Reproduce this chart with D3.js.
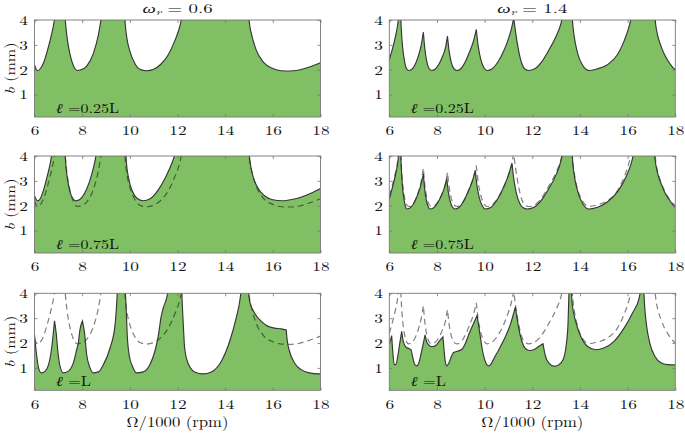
<!DOCTYPE html>
<html><head><meta charset="utf-8">
<script src="https://cdn.jsdelivr.net/npm/d3@7"></script>
<style>body{margin:0;background:#fff} svg{display:block} text{font-family:"Latin Modern Roman","Liberation Serif",serif}</style>
</head><body><svg id="c" width="685" height="434"></svg>
<script>
const xTicks = [6, 8, 10, 12, 14, 16, 18];
const yTicks = [1, 2, 3, 4];
const omegaLabels = ["0.6", "1.4"];
const lengthLabels = ["0.25L", "0.75L", "L"];

// each curve = list of lobe branches [[speed/1000, b(mm)], ...]
const lobes_w06_l025 = [
 [[6,2.19],[6.07,2.02],[6.14,1.96],[6.25,2.05],[6.38,2.28],[6.52,2.7],[6.66,3.2],[6.78,3.7],[6.9,4.4]],
 [[7.26,4.4],[7.3,3.9],[7.36,3.35],[7.45,2.8],[7.58,2.3],[7.7,2.04],[7.8,1.97],[7.95,2.0],[8.19,2.15],[8.47,2.66],[8.68,3.4],[8.82,4.2]],
 [[9.77,4.4],[9.81,3.8],[9.88,3.25],[10.0,2.75],[10.2,2.27],[10.42,2.02],[10.7,1.96],[11.0,2.02],[11.3,2.22],[11.6,2.58],[11.9,3.2],[12.1,3.75],[12.22,4.3]],
 [[14.97,4.4],[15.02,3.85],[15.1,3.45],[15.3,2.8],[15.59,2.32],[16.0,2.05],[16.35,1.96],[16.7,1.95],[17.1,1.99],[17.5,2.1],[18,2.28]]
];
const lobes_w14_l025 = [
 [[6,2.4],[6.12,2.8],[6.25,3.3],[6.35,3.8],[6.42,4.4]],
 [[6.47,4.4],[6.5,3.7],[6.56,2.9],[6.63,2.4],[6.71,2.07],[6.8,1.97],[6.92,2.0],[7.05,2.15],[7.2,2.5],[7.33,2.95],[7.43,3.51]],
 [[7.43,3.51],[7.49,2.85],[7.57,2.35],[7.67,2.05],[7.78,1.97],[7.92,2.02],[8.08,2.22],[8.24,2.55],[8.36,2.9],[8.44,3.35]],
 [[8.44,3.35],[8.51,2.75],[8.6,2.3],[8.72,2.03],[8.84,1.97],[9.0,2.04],[9.18,2.3],[9.36,2.7],[9.53,3.15],[9.65,3.62]],
 [[9.65,3.62],[9.73,2.95],[9.83,2.45],[9.96,2.1],[10.1,1.97],[10.3,2.03],[10.55,2.3],[10.8,2.75],[11.0,3.25],[11.15,3.75],[11.22,4.1]],
 [[11.22,4.1],[11.3,3.5],[11.42,2.8],[11.56,2.25],[11.7,2.02],[11.85,1.97],[12.1,2.04],[12.4,2.33],[12.7,2.8],[13.0,3.35],[13.2,3.85],[13.32,4.4]],
 [[13.65,4.4],[13.71,3.7],[13.8,3.1],[13.92,2.6],[14.1,2.2],[14.38,1.97],[14.7,2.03],[15.15,2.2],[15.57,2.6],[15.85,3.15],[16.05,3.7],[16.2,4.3]],
 [[17.12,4.4],[17.18,3.8],[17.28,3.3],[17.4,2.95],[17.55,2.6],[17.7,2.35],[17.85,2.15],[18,2.0]]
];
const lobes_w06_l075 = [
 [[6,2.4],[6.07,2.25],[6.14,2.2],[6.25,2.3],[6.4,2.7],[6.55,3.25],[6.67,3.75],[6.76,4.3]],
 [[7.27,4.4],[7.31,3.7],[7.38,3.1],[7.48,2.6],[7.6,2.3],[7.74,2.2],[7.9,2.25],[8.1,2.5],[8.3,2.95],[8.48,3.55],[8.62,4.2]],
 [[9.82,4.4],[9.86,3.7],[9.95,3.1],[10.1,2.6],[10.3,2.3],[10.56,2.2],[10.85,2.28],[11.2,2.65],[11.5,3.15],[11.78,3.75],[11.98,4.3]],
 [[14.98,4.4],[15.04,3.8],[15.15,3.25],[15.35,2.75],[15.65,2.4],[16.0,2.24],[16.4,2.2],[16.8,2.25],[17.2,2.35],[17.6,2.5],[18,2.69]]
];
const lobes_w14_l075 = [
 [[6,2.27],[6.12,2.7],[6.25,3.2],[6.35,3.7],[6.43,4.4]],
 [[6.47,4.4],[6.5,3.6],[6.55,2.8],[6.61,2.3],[6.67,2.0],[6.73,1.87],[6.85,1.9],[7.0,2.05],[7.15,2.35],[7.3,2.75],[7.43,3.27]],
 [[7.43,3.27],[7.48,2.7],[7.55,2.25],[7.63,1.97],[7.71,1.87],[7.85,1.91],[8.02,2.1],[8.18,2.4],[8.31,2.72],[8.41,3.1]],
 [[8.41,3.1],[8.47,2.6],[8.55,2.2],[8.65,1.95],[8.76,1.87],[8.92,1.93],[9.1,2.15],[9.3,2.55],[9.48,2.98],[9.61,3.4]],
 [[9.61,3.4],[9.68,2.8],[9.77,2.35],[9.9,2.0],[10.03,1.87],[10.25,1.93],[10.5,2.2],[10.75,2.65],[10.95,3.1],[11.15,3.7]],
 [[11.15,3.7],[11.22,3.1],[11.32,2.55],[11.47,2.1],[11.62,1.92],[11.78,1.87],[12.05,1.93],[12.4,2.25],[12.7,2.7],[13.0,3.25],[13.2,3.8],[13.32,4.4]],
 [[13.65,4.4],[13.71,3.6],[13.8,3.0],[13.93,2.5],[14.12,2.08],[14.38,1.87],[14.7,1.93],[15.15,2.15],[15.6,2.6],[15.95,3.2],[16.15,3.7],[16.3,4.3]],
 [[17.1,4.4],[17.16,3.8],[17.26,3.3],[17.4,2.9],[17.55,2.55],[17.7,2.3],[17.85,2.1],[18,1.94]]
];
const lobes_w06_l100 = [
 [[6,2.33],[6.07,1.67],[6.17,1.0],[6.28,0.8],[6.45,0.87],[6.59,1.13],[6.73,1.87],[6.8,2.5],[6.84,2.89]],
 [[6.84,2.89],[6.91,2.4],[6.98,1.67],[7.07,1.07],[7.21,0.8],[7.42,0.87],[7.63,1.2],[7.77,1.73],[7.84,2.0]],
 [[7.84,2.0],[7.91,2.55],[8.01,2.89]],
 [[8.01,2.89],[8.1,2.4],[8.19,1.53],[8.33,1.0],[8.47,0.8],[8.68,0.84],[8.89,1.13],[9.17,1.8],[9.38,2.73],[9.45,3.6],[9.5,4.5]],
 [[9.78,4.5],[9.84,3.53],[9.89,2.33],[9.97,1.53],[10.14,1.0],[10.28,0.8],[10.56,0.84],[10.84,1.13],[11.05,1.67],[11.19,2.27],[11.3,3.0]],
 [[11.3,3.0],[11.4,3.4],[11.54,3.8],[11.65,4.3]],
 [[12.17,4.4],[12.19,3.8],[12.23,3.0],[12.3,1.8],[12.44,1.2],[12.72,0.84],[13.07,0.76],[13.42,0.84],[13.84,1.27],[14.19,2.07],[14.46,3.0],[14.63,3.8],[14.7,4.4]],
 [[14.95,4.4],[15.03,3.67],[15.24,3.2],[15.52,2.87],[15.8,2.67],[16.07,2.6],[16.35,2.57],[16.56,2.53]],
 [[16.56,2.53],[16.6,2.13],[16.7,1.67],[16.91,1.2],[17.19,0.93],[17.53,0.8],[17.92,0.76],[18,0.76]]
];
const lobes_w14_l100 = [
 [[6,2.0],[6.06,2.15],[6.1,2.3]],
 [[6.1,2.3],[6.15,1.6],[6.21,1.13],[6.28,1.15],[6.36,1.5],[6.44,2.0],[6.52,2.47]],
 [[6.52,2.47],[6.58,2.1],[6.65,1.9],[6.72,1.82],[6.82,1.78],[6.92,1.72]],
 [[6.92,1.72],[6.98,1.45],[7.06,1.15],[7.15,1.08],[7.24,1.2],[7.34,1.6],[7.43,2.0],[7.5,2.33]],
 [[7.5,2.33],[7.57,2.05],[7.66,1.92],[7.8,1.85],[7.95,1.9],[8.1,2.08],[8.25,2.25]],
 [[8.25,2.25],[8.3,1.7],[8.35,1.25],[8.41,1.08],[8.5,1.2],[8.6,1.45],[8.69,1.62]],
 [[8.69,1.62],[8.85,1.67],[9.05,1.75],[9.2,2.0],[9.33,2.33],[9.54,2.8],[9.68,3.1]],
 [[9.68,3.1],[9.75,2.7],[9.82,2.25],[9.9,1.75],[9.98,1.4],[10.08,1.15],[10.17,1.08],[10.28,1.17],[10.4,1.4],[10.55,1.65]],
 [[10.55,1.65],[10.66,1.85],[10.87,2.25],[11.08,2.75],[11.29,3.45]],
 [[11.29,3.45],[11.36,3.0],[11.43,2.6],[11.57,2.05],[11.71,1.78],[11.9,1.7],[12.1,1.75],[12.3,1.88],[12.45,1.97]],
 [[12.45,1.97],[12.5,1.7],[12.56,1.45],[12.69,1.2],[12.9,1.07],[13.1,1.12],[13.3,1.35],[13.42,1.9],[13.5,2.8],[13.55,4.4]],
 [[13.62,4.4],[13.68,3.53],[13.82,2.87],[14.03,2.27],[14.31,1.87],[14.66,1.73],[15.0,1.8],[15.43,2.07],[15.85,2.6],[16.2,3.2],[16.48,3.8],[16.6,4.4]],
 [[16.66,4.4],[16.72,3.4],[16.79,2.73],[16.93,2.0],[17.14,1.47],[17.42,1.2],[17.7,1.13],[18,1.12]]
];

const panels = [
 {row:0, col:0, solid:lobes_w06_l025, dashed:null},
 {row:0, col:1, solid:lobes_w14_l025, dashed:null},
 {row:1, col:0, solid:lobes_w06_l075, dashed:lobes_w06_l025},
 {row:1, col:1, solid:lobes_w14_l075, dashed:lobes_w14_l025},
 {row:2, col:0, solid:lobes_w06_l100, dashed:lobes_w06_l025},
 {row:2, col:1, solid:lobes_w14_l100, dashed:lobes_w14_l025}
];

const colLeft = [34.5, 389.3];
const rowTop = [20, 156, 293.3];
const W = 286, H = 97;
const FONT = '"Latin Modern Roman","Liberation Serif",serif';
const TICK_FS = "13.5px", SX = 1.28;   // reference glyphs are horizontally stretched
const svg = d3.select("#c");

const x = d3.scaleLinear().domain([6, 18]).range([0, W]);
const y = d3.scaleLinear().domain([0.1, 4]).range([H, 0]);
const line = d3.line().x(d => x(d[0])).y(d => y(d[1])).curve(d3.curveMonotoneX);

function curvePath(segs) {
  return segs.map((s, i) => { const p = line(s); return i ? "L" + p.slice(1) : p; }).join("");
}
function areaPath(segs) {
  const first = segs[0][0], lastSeg = segs[segs.length - 1], last = lastSeg[lastSeg.length - 1];
  return curvePath(segs) + `L${x(last[0])},${H + 2}L${x(first[0])},${H + 2}Z`;
}
function label(sel, fs, len) {
  return sel.style("font-family", FONT).style("font-size", fs).attr("fill", "#111")
    .attr("textLength", len).attr("lengthAdjust", "spacingAndGlyphs");
}

panels.forEach((p, i) => {
  const g = svg.append("g").attr("transform", `translate(${colLeft[p.col]},${rowTop[p.row]})`);
  const cid = "clip" + i;
  g.append("clipPath").attr("id", cid).append("rect").attr("width", W).attr("height", H);
  const plot = g.append("g").attr("clip-path", `url(#${cid})`);
  plot.append("path").attr("d", areaPath(p.solid)).attr("fill", "#80bf64").attr("stroke", "none");
  if (p.dashed) {
    plot.append("path").attr("d", curvePath(p.dashed)).attr("fill", "none")
      .attr("stroke", "#000").attr("stroke-opacity", 0.5).attr("stroke-width", 1.2)
      .attr("stroke-dasharray", "6,4");
  }
  plot.append("path").attr("d", curvePath(p.solid)).attr("fill", "none")
    .attr("stroke", "#363636").attr("stroke-width", 1.15);

  const axCol = "#777";
  const ab = g.append("g").attr("transform", `translate(0,${H})`)
    .call(d3.axisBottom(x).tickValues(xTicks).tickSize(-3).tickFormat(d3.format("d")));
  const at = g.append("g").call(d3.axisTop(x).tickValues(xTicks).tickSize(-3).tickFormat(""));
  const al = g.append("g").call(d3.axisLeft(y).tickValues(yTicks).tickSize(-3).tickFormat(d3.format("d")));
  const ar = g.append("g").attr("transform", `translate(${W},0)`)
    .call(d3.axisRight(y).tickValues(yTicks).tickSize(-3).tickFormat(""));
  [ab, at, al, ar].forEach(a => {
    a.select(".domain").remove();
    a.attr("font-family", null).attr("font-size", null);
    a.selectAll(".tick line").attr("stroke", axCol).attr("stroke-width", 0.8);
    a.selectAll(".tick text").attr("fill", "#111").style("font-family", FONT).style("font-size", TICK_FS);
  });
  ab.selectAll(".tick text").attr("y", 18.3).attr("dy", null).attr("transform", `scale(${SX},1)`);
  al.selectAll(".tick text").attr("x", -6.5 / SX).attr("transform", `scale(${SX},1)`);
  g.append("rect").attr("width", W).attr("height", H).attr("fill", "none")
    .attr("stroke", axCol).attr("stroke-width", 0.9);

  const ann = label(g.append("text").attr("x", 21.5).attr("y", H - 4), "13.5px", p.row === 2 ? 35 : 63);
  ann.append("tspan").style("font-style", "italic").text("ℓ");
  ann.append("tspan").text(" =" + lengthLabels[p.row]);

  if (p.col === 0) {
    const t = label(svg.append("text").attr("transform", `translate(15,${rowTop[p.row] + H / 2}) rotate(-90)`)
      .attr("text-anchor", "middle"), "14px", 52);
    t.append("tspan").style("font-style", "italic").text("b");
    t.append("tspan").text(" (mm)");
  }
  if (p.row === 0) {
    const t = svg.append("text")
      .attr("transform", `translate(${colLeft[p.col] + W / 2},13) scale(1.45,1)`)
      .attr("text-anchor", "middle").style("font-family", FONT).style("font-size", "13px").attr("fill", "#111");
    t.append("tspan").style("font-style", "italic").text("ω");
    t.append("tspan").style("font-style", "italic").style("font-size", "9px").attr("dy", 2).text("r");
    t.append("tspan").attr("dy", -2).text(" = " + omegaLabels[p.col]);
  }
  if (p.row === 2) {
    label(svg.append("text").attr("x", colLeft[p.col] + W / 2).attr("y", 427)
      .attr("text-anchor", "middle"), "14.5px", 102)
      .text("Ω/1000 (rpm)");
  }
});
</script></body></html>
